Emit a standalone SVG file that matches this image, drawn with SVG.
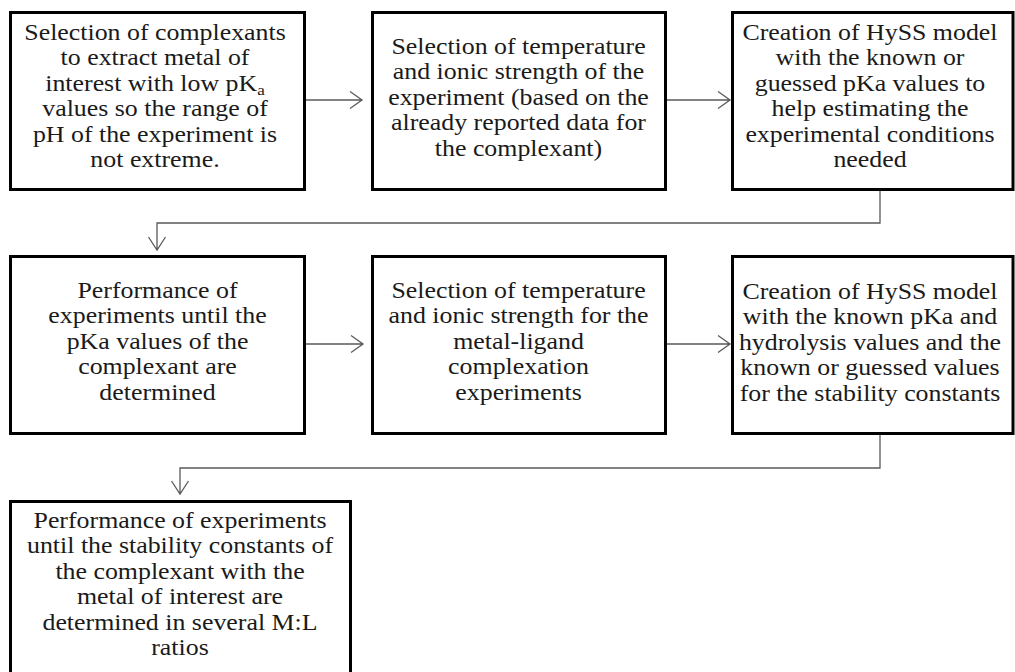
<svg xmlns="http://www.w3.org/2000/svg" width="1015" height="672" viewBox="0 0 1015 672">
<style>
.box{fill:#fff;stroke:#000;stroke-width:3}
.t{font-size:22.7px;fill:#1a1a1a;text-anchor:middle}
.c{fill:none;stroke:#5a5a5a;stroke-width:1.3}
</style>
<rect width="1015" height="672" fill="#fff"/>
<g id="connectors">
<path class="c" d="M305 100H362M350 91.5L362 100L350 108.5"/>
<path class="c" d="M666 100H730M718 91.5L730 100L718 108.5"/>
<path class="c" d="M880 190V223H157V250M148.5 237L157 250L165.5 237"/>
<path class="c" d="M305 344H363M351 335.5L363 344L351 352.5"/>
<path class="c" d="M666 344H730M718 335.5L730 344L718 352.5"/>
<path class="c" d="M880 433V468H180V494M171.5 481L180 494L188.5 481"/>
</g>
<g font-family="'Liberation Serif', 'Times New Roman', 'DejaVu Serif', serif">
<g id="n1">
<rect class="box" x="10.5" y="12.5" width="294" height="177"/>
<text class="t" transform="translate(155 0) scale(1.14 1)"><tspan x="0" y="40">Selection of complexants</tspan><tspan x="0" y="65.5">to extract metal of</tspan><tspan x="0" y="91">interest with low pK<tspan dy="4" font-size="15">a</tspan></tspan><tspan x="0" y="116.5">values so the range of</tspan><tspan x="0" y="142">pH of the experiment is</tspan><tspan x="0" y="167.5">not extreme.</tspan></text>
</g>
<g id="n2">
<rect class="box" x="372.5" y="12.5" width="293" height="177"/>
<text class="t" transform="translate(518.5 0) scale(1.14 1)"><tspan x="0" y="54">Selection of temperature</tspan><tspan x="0" y="79.5">and ionic strength of the</tspan><tspan x="0" y="105">experiment (based on the</tspan><tspan x="0" y="130.5">already reported data for</tspan><tspan x="0" y="156">the complexant)</tspan></text>
</g>
<g id="n3">
<rect class="box" x="732.5" y="12.5" width="280.5" height="177"/>
<text class="t" transform="translate(870 0) scale(1.14 1)"><tspan x="0" y="40">Creation of HySS model</tspan><tspan x="0" y="65.5">with the known or</tspan><tspan x="0" y="91">guessed pKa values to</tspan><tspan x="0" y="116.5">help estimating the</tspan><tspan x="0" y="142">experimental conditions</tspan><tspan x="0" y="167.5">needed</tspan></text>
</g>
<g id="n4">
<rect class="box" x="10.5" y="256.5" width="294" height="177"/>
<text class="t" transform="translate(157.5 0) scale(1.14 1)"><tspan x="0" y="298">Performance of</tspan><tspan x="0" y="323.5">experiments until the</tspan><tspan x="0" y="349">pKa values of the</tspan><tspan x="0" y="374.5">complexant are</tspan><tspan x="0" y="400">determined</tspan></text>
</g>
<g id="n5">
<rect class="box" x="372.5" y="256.5" width="293" height="177"/>
<text class="t" transform="translate(518.5 0) scale(1.14 1)"><tspan x="0" y="298">Selection of temperature</tspan><tspan x="0" y="323.5">and ionic strength for the</tspan><tspan x="0" y="349">metal-ligand</tspan><tspan x="0" y="374.5">complexation</tspan><tspan x="0" y="400">experiments</tspan></text>
</g>
<g id="n6">
<rect class="box" x="732.5" y="256.5" width="280.5" height="177"/>
<text class="t" transform="translate(870 0) scale(1.14 1)"><tspan x="0" y="299">Creation of HySS model</tspan><tspan x="0" y="324.5">with the known pKa and</tspan><tspan x="0" y="350">hydrolysis values and the</tspan><tspan x="0" y="375.5">known or guessed values</tspan><tspan x="0" y="401">for the stability constants</tspan></text>
</g>
<g id="n7">
<rect class="box" x="10.5" y="501.5" width="340" height="180"/>
<text class="t" transform="translate(180 0) scale(1.14 1)"><tspan x="0" y="528">Performance of experiments</tspan><tspan x="0" y="553.5">until the stability constants of</tspan><tspan x="0" y="579">the complexant with the</tspan><tspan x="0" y="604.5">metal of interest are</tspan><tspan x="0" y="630">determined in several M:L</tspan><tspan x="0" y="655.5">ratios</tspan></text>
</g>
</g>
</svg>
